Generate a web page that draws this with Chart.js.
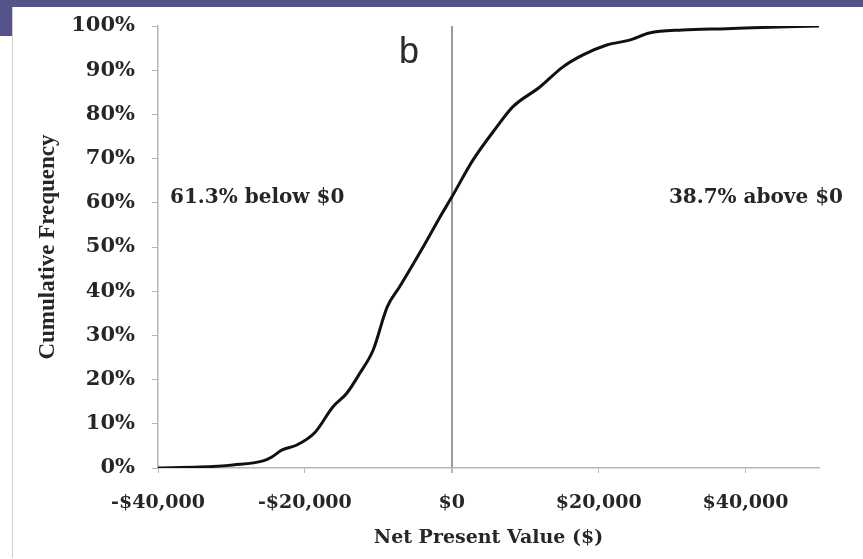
<!DOCTYPE html>
<html>
<head>
<meta charset="utf-8">
<title>Net Present Value – Cumulative Frequency</title>
<script src="https://cdn.jsdelivr.net/npm/chart.js@4.4.1/dist/chart.umd.min.js"></script>
<style>
  html, body { margin: 0; padding: 0; background: #ffffff; }
  body { width: 863px; height: 559px; position: relative; overflow: hidden; }
  .band { position: absolute; left: 0; top: 0; width: 863px; height: 7px; background: #54538a; }
  .tab { position: absolute; left: 0; top: 0; width: 12px; height: 36px; background: #54538a; }
  .edge { position: absolute; left: 12px; top: 7px; width: 1px; height: 551px; background: #cfcfcf; }
  .wrap { position: absolute; left: 0; top: 0; width: 863px; height: 559px; }
</style>
</head>
<body>
<div class="band"></div>
<div class="tab"></div>
<div class="edge"></div>
<div class="wrap"><canvas id="chart" width="863" height="559"></canvas></div>
<script>
// Simulated net present value outcomes ($) and their cumulative frequency (%)
const npvValues = [-40000, -34300, -29800, -25700, -24500, -23100, -21100, -18600,
  -16200, -14300, -12500, -10700, -8800, -7100, -3900, -1600, 0,
  2900, 6100, 8300, 12000, 15100, 17800, 21100, 24200, 26900,
  31400, 37400, 41000, 50000];
const cumulativePct = [0, 0.2, 0.7, 1.6, 2.5, 4.1, 5.2, 8.1,
  13.8, 16.9, 21.5, 26.7, 36.4, 41.0, 50.0, 56.8, 61.3,
  69.7, 77.1, 81.7, 86.2, 90.7, 93.4, 95.7, 96.8, 98.4,
  99.1, 99.4, 99.6, 100];

// Axis ranges and labelled tick values
const xTickValues = [-40000, -20000, 0, 20000, 40000];
const yTickValues = [0, 10, 20, 30, 40, 50, 60, 70, 80, 90, 100];

const panelLetter = 'b';
const xTitle = 'Net Present Value ($)';
const yTitle = 'Cumulative Frequency';

// Share of outcomes at or below $0, taken from the curve itself
const belowZero = cumulativePct[npvValues.indexOf(0)];
const aboveZero = +(100 - belowZero).toFixed(1);

const points = npvValues.map((x, i) => ({ x: x, y: cumulativePct[i] }));

const serifBold = "'DejaVu Serif', 'Liberation Serif', serif";
const textColor = '#262626';

function money(v) {
  return (v < 0 ? '-' : '') + '$' + Math.abs(v).toLocaleString('en-US');
}

// Panel letter and the below / above $0 notes
const notes = {
  id: 'notes',
  afterDraw(chart) {
    const { ctx, chartArea, scales } = chart;
    const yMid = scales.y.getPixelForValue(belowZero);
    ctx.save();
    ctx.fillStyle = textColor;
    ctx.font = "bold 20px " + serifBold;
    ctx.textBaseline = 'middle';
    ctx.textAlign = 'left';
    ctx.fillText(belowZero.toFixed(1) + '% below $0', chartArea.left + 12, yMid + 1);
    ctx.textAlign = 'right';
    ctx.fillText(aboveZero.toFixed(1) + '% above $0', chartArea.right + 24, yMid + 1);
    ctx.font = "36px 'Liberation Sans', Arial, sans-serif";
    ctx.textAlign = 'left';
    ctx.textBaseline = 'alphabetic';
    ctx.fillStyle = '#2b2b2b';
    ctx.fillText(panelLetter, 399, 63);
    ctx.restore();
  }
};

new Chart(document.getElementById('chart'), {
  type: 'line',
  data: {
    datasets: [{
      data: points,
      borderColor: '#111111',
      borderWidth: 3,
      pointRadius: 0,
      cubicInterpolationMode: 'monotone',
      fill: false
    }]
  },
  options: {
    responsive: false,
    animation: false,
    layout: { padding: { left: 0, top: 26, right: 44, bottom: 0 } },
    plugins: {
      legend: { display: false },
      tooltip: { enabled: false }
    },
    scales: {
      x: {
        type: 'linear',
        min: xTickValues[0],
        max: 50000,
        afterBuildTicks(scale) {
          scale.ticks = xTickValues.map(v => ({ value: v }));
        },
        afterFit(scale) { scale.height = 91; },
        ticks: {
          callback: v => money(v),
          color: textColor,
          font: { family: serifBold, size: 19, weight: 'bold' },
          padding: 19,
          maxRotation: 0,
          autoSkip: false
        },
        grid: {
          drawOnChartArea: true,
          color: ctx => (ctx.tick && ctx.tick.value === 0) ? '#9a9a9a' : 'rgba(0,0,0,0)',
          lineWidth: ctx => (ctx.tick && ctx.tick.value === 0) ? 2 : 1,
          tickColor: '#b5b5b5',
          tickLength: 5
        },
        border: { color: '#b5b5b5', width: 1.5 },
        title: {
          display: true,
          text: xTitle,
          color: textColor,
          font: { family: serifBold, size: 19, weight: 'bold' },
          padding: { top: 0, bottom: 10 }
        }
      },
      y: {
        type: 'linear',
        min: 0,
        max: 100,
        afterBuildTicks(scale) {
          scale.ticks = yTickValues.map(v => ({ value: v }));
        },
        afterFit(scale) {
          scale.width = 158;
          scale.paddingTop = 0;
          scale.paddingBottom = 0;
        },
        ticks: {
          callback: v => v + '%',
          color: textColor,
          font: { family: serifBold, size: 21, weight: 'bold' },
          padding: 17
        },
        grid: {
          drawOnChartArea: false,
          color: '#b5b5b5',
          tickLength: 6
        },
        border: { color: '#b5b5b5', width: 1.5 },
        title: {
          display: true,
          text: yTitle,
          color: textColor,
          font: { family: "'Liberation Serif', 'Times New Roman', serif", size: 23, weight: 'bold' },
          padding: { top: 34, bottom: 0 }
        }
      }
    }
  },
  plugins: [notes]
});
</script>
</body>
</html>
